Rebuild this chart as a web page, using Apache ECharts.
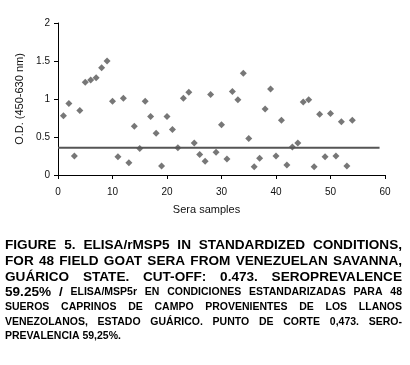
<!DOCTYPE html>
<html><head><meta charset="utf-8">
<script src="https://cdn.jsdelivr.net/npm/echarts@6/dist/echarts.min.js"></script>
<style>html,body{margin:0;padding:0;background:#fff}#c{width:410px;height:365px}</style>
</head><body><div id="c"></div>
<script>
// Data
const sampleIds = [1,2,3,4,5,6,7,8,9,10,11,12,13,14,15,16,17,18,19,20,21,22,23,24,25,26,27,28,29,30,31,32,33,34,35,36,37,38,39,40,41,42,43,44,45,46,47,48,49,50,51,52,53,54];
const odValues = [0.78,0.94,0.25,0.85,1.22,1.25,1.28,1.41,1.50,0.97,0.24,1.01,0.16,0.64,0.35,0.97,0.77,0.55,0.12,0.77,0.60,0.36,1.01,1.09,0.42,0.27,0.18,1.06,0.30,0.66,0.21,1.10,0.99,1.34,0.48,0.11,0.22,0.87,1.13,0.25,0.72,0.13,0.37,0.42,0.96,0.99,0.11,0.80,0.24,0.81,0.25,0.70,0.12,0.72];
const cutoffValue = 0.36;
const cutoffSpan = [0, 59];
const xTicks = [0,10,20,30,40,50,60];
const yTicks = [0,0.5,1,1.5,2];
const xTitle = 'Sera samples';
const yTitle = 'O.D. (450-630 nm)';

const BIG = 'bold 13.6px "Liberation Sans", Arial, sans-serif';
const SMALL = 'bold 10.5px "Liberation Sans", Arial, sans-serif';
const captionLines = [
  {y:245, justify:true, parts:[{t:'FIGURE 5. ELISA/rMSP5 IN STANDARDIZED CONDITIONS,', f:'big'}]},
  {y:261, justify:true, parts:[{t:'FOR 48 FIELD GOAT SERA FROM VENEZUELAN SAVANNA,', f:'big'}]},
  {y:277, justify:true, parts:[{t:'GUÁRICO STATE. CUT-OFF: 0.473. SEROPREVALENCE', f:'big'}]},
  {y:292, justify:true, parts:[{t:'59.25% /', f:'big'},{t:'ELISA/MSP5r EN CONDICIONES ESTANDARIZADAS PARA 48', f:'small'}]},
  {y:307, justify:true, parts:[{t:'SUEROS CAPRINOS DE CAMPO PROVENIENTES DE LOS LLANOS', f:'small'}]},
  {y:322, justify:true, parts:[{t:'VENEZOLANOS, ESTADO GUÁRICO. PUNTO DE CORTE 0,473. SERO-', f:'small'}]},
  {y:336, justify:false, parts:[{t:'PREVALENCIA 59,25%.', f:'small'}]}
];

const ctx = document.createElement('canvas').getContext('2d');
function measure(text, font){ ctx.font = font; return ctx.measureText(text).width; }
const fonts = {big: BIG, small: SMALL};
const leftX = 5, rightX = 402;
const graphics = [];
captionLines.forEach(line => {
  const words = [];
  line.parts.forEach(p => p.t.split(' ').forEach(w => words.push({t:w, font:fonts[p.f]})));
  const widths = words.map(w => measure(w.t, w.font));
  const total = widths.reduce((a,b)=>a+b,0);
  const gap = line.justify ? (rightX - leftX - total)/(words.length-1) : measure(' ', words[0].font);
  let x = leftX;
  words.forEach((w,i) => {
    graphics.push({type:'text', x:x, y:line.y, style:{text:w.t, font:w.font, fill:'#000', textVerticalAlign:'middle', verticalAlign:'middle'}});
    x += widths[i] + gap;
  });
});

const chart = echarts.init(document.getElementById('c'), null, {renderer:'canvas'});
chart.setOption({
  animation:false,
  backgroundColor:'#fff',
  grid:{left:58, right:25, top:23, bottom:190, containLabel:false},
  xAxis:{type:'value', min:xTicks[0], max:xTicks[xTicks.length-1], interval:10,
    name:xTitle, nameLocation:'middle', nameGap:29,
    nameTextStyle:{fontSize:11, color:'#111', fontFamily:'"Liberation Sans", Arial', padding:[0,30,0,0]},
    axisLine:{lineStyle:{color:'#000', width:1}}, axisTick:{length:4, lineStyle:{color:'#000'}},
    axisLabel:{fontSize:10, color:'#111', fontFamily:'"Liberation Sans", Arial', margin:12},
    splitLine:{show:false}},
  yAxis:{type:'value', min:yTicks[0], max:yTicks[yTicks.length-1], interval:0.5,
    name:yTitle, nameLocation:'middle', nameGap:33,
    nameTextStyle:{fontSize:11, color:'#111', fontFamily:'"Liberation Sans", Arial'},
    axisLine:{show:true, lineStyle:{color:'#000', width:1}}, axisTick:{show:true, length:4, lineStyle:{color:'#000'}},
    axisLabel:{fontSize:10, color:'#111', fontFamily:'"Liberation Sans", Arial', margin:8},
    splitLine:{show:false}},
  series:[
    {type:'line', data:[[cutoffSpan[0],cutoffValue],[cutoffSpan[1],cutoffValue]], symbol:'none',
      lineStyle:{color:'#555', width:2}, z:1},
    {type:'scatter', data:sampleIds.map((id,i)=>[id, odValues[i]]), symbol:'diamond', symbolSize:7,
      itemStyle:{color:'#555'}, z:2}
  ],
  graphic: graphics
});
</script></body></html>
